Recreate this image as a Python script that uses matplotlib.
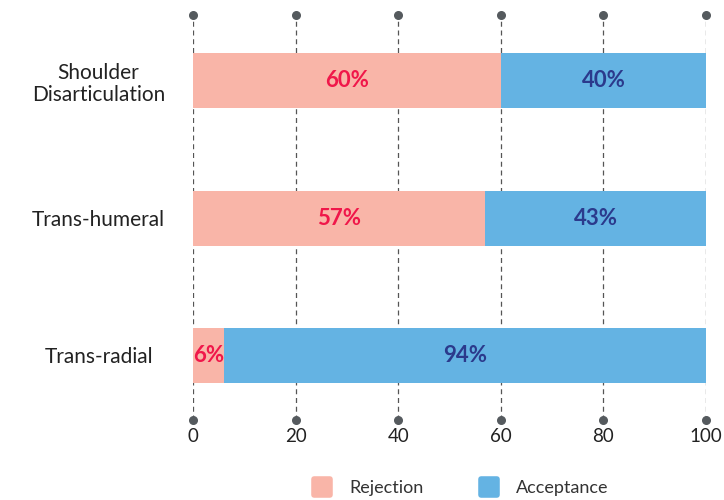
import matplotlib
matplotlib.use("Agg")
import matplotlib.pyplot as plt
from matplotlib.lines import Line2D
from matplotlib.markers import MarkerStyle

plt.rcParams['font.family'] = ['Lato', 'DejaVu Sans']

categories = ['Shoulder\nDisarticulation', 'Trans-humeral', 'Trans-radial']
rejection = [60, 57, 6]
acceptance = [40, 43, 94]
ticks = [0, 20, 40, 60, 80, 100]

rej_color = '#f9b5a8'
acc_color = '#64b3e3'
rej_text = '#f0174a'
acc_text = '#2b3a8c'

fig = plt.figure(figsize=(7.24, 5), dpi=100)
ax = fig.add_axes([0.2666, 0.16, 0.7086, 0.81])

ypos = list(range(len(categories)))
ax.barh(ypos, rejection, height=0.4, color=rej_color, zorder=2)
ax.barh(ypos, acceptance, left=rejection, height=0.4, color=acc_color, zorder=2)

for y, r, a in zip(ypos, rejection, acceptance):
    ax.text(r / 2, y, f'{r}%', ha='center', va='center', color=rej_text,
            fontsize=16, fontweight='bold', zorder=3)
    ax.text(r + a / 2, y, f'{a}%', ha='center', va='center', color=acc_text,
            fontsize=16, fontweight='bold', zorder=3)

ax.set_xlim(0, 100)
ax.set_ylim(2.47, -0.48)
ax.set_yticks(ypos)
ax.set_yticklabels(categories, fontsize=15, color='#222222', linespacing=1.15)
ax.set_xticks(ticks)
ax.set_xticklabels([str(t) for t in ticks], fontsize=13.5, color='#222222')
ax.tick_params(length=0)
ax.tick_params(axis='x', pad=6)
ax.tick_params(axis='y', pad=68)
for lab in ax.get_yticklabels():
    lab.set_horizontalalignment('center')
    lab.set_multialignment('center')

for t in ticks:
    ax.axvline(t, color='#555555', linestyle=(0, (4, 3)), linewidth=0.9, zorder=1)
ax.scatter(ticks, [2.47] * len(ticks), s=30, color='#555a5e', clip_on=False, zorder=4)
ax.scatter(ticks, [-0.48] * len(ticks), s=30, color='#555a5e', clip_on=False, zorder=4)

for s in ax.spines.values():
    s.set_visible(False)

sq = MarkerStyle('s', joinstyle='round')
handles = [
    Line2D([], [], marker=sq, linestyle='none', markersize=12, color=rej_color,
           markeredgewidth=4),
    Line2D([], [], marker=sq, linestyle='none', markersize=12, color=acc_color,
           markeredgewidth=4),
]
fig.legend(handles, ['Rejection', 'Acceptance'], loc='center', bbox_to_anchor=(0.63, 0.024),
           ncol=2, frameon=False, fontsize=13, columnspacing=2.6, handletextpad=0.5,
           labelcolor='#333333')

fig.savefig('out.png', dpi=100)
